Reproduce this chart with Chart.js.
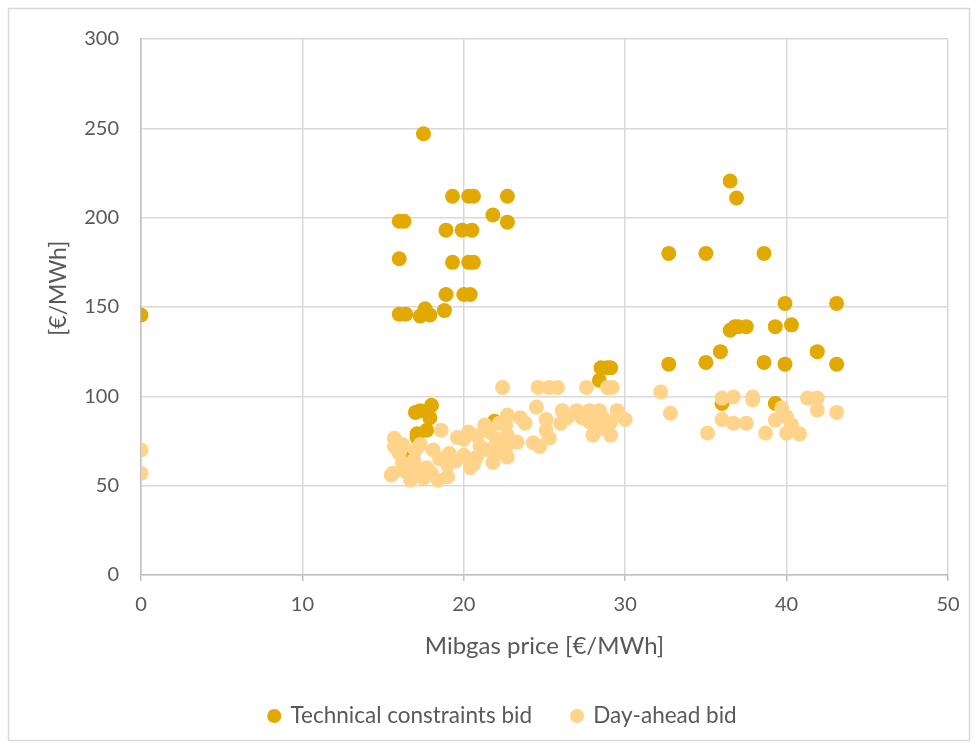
<!DOCTYPE html>
<html>
<head>
<meta charset="utf-8">
<script src="https://cdn.jsdelivr.net/npm/chart.js@4.4.1/dist/chart.umd.min.js"></script>
<style>
  html, body { margin: 0; padding: 0; background: #ffffff; }
  #wrap { width: 978px; height: 749px; position: relative; }
</style>
</head>
<body>
<div id="wrap"><canvas id="c" width="978" height="749"></canvas></div>
<script>
// Mibgas gas price [€/MWh] vs. bid price [€/MWh]
const seriesNames = ['Technical constraints bid', 'Day-ahead bid'];
const xTitle = 'Mibgas price [€/MWh]';
const yTitle = '[€/MWh]';
const xTicks = [0, 10, 20, 30, 40, 50];
const yTicks = [0, 50, 100, 150, 200, 250, 300];

const technicalBid = [
  [0, 145.5], [17.5, 247], [16.0, 198], [16.3, 198], [16.0, 177],
  [16.0, 146], [16.4, 146], [17.3, 145], [17.6, 149], [17.9, 145.5],
  [18.8, 148], [18.9, 157], [20.0, 157], [20.4, 157], [18.9, 193],
  [19.9, 193], [20.5, 193], [19.3, 212], [20.3, 212], [20.6, 212],
  [19.3, 175], [20.3, 175], [20.6, 175], [21.8, 201.5], [22.7, 212],
  [22.7, 197.5], [17.0, 91], [17.3, 92], [18.0, 95], [17.9, 88],
  [17.1, 79], [17.7, 81], [17.1, 77], [16.8, 66], [21.9, 86],
  [28.5, 116], [28.9, 116], [29.1, 116], [28.4, 109], [32.7, 180],
  [32.7, 118], [35.0, 180], [35.0, 119], [35.9, 125], [36.5, 220.5],
  [36.9, 211], [36.5, 137], [36.8, 139], [37.0, 139], [37.5, 139],
  [36.0, 96], [38.6, 180], [38.6, 119], [39.3, 139], [39.9, 152],
  [39.9, 118], [40.3, 140], [41.9, 125], [43.1, 152], [43.1, 118],
  [39.3, 96]
];

const dayAheadBid = [
  [0, 70], [0, 57],
  [15.5, 56], [15.7, 76.6], [15.7, 72], [15.6, 57], [16.2, 62.7], [16.7, 53],
  [17.5, 54], [18.4, 53], [19.0, 55], [18.6, 81], [17.3, 73], [18.1, 70],
  [19.1, 68], [20.0, 67], [20.8, 66], [19.6, 77], [20.8, 78], [21.6, 80],
  [22.2, 85], [21.8, 63], [22.7, 73], [16.2, 73], [16.9, 64], [17.7, 60],
  [19.0, 61.5], [20.4, 60], [16.4, 58], [17.2, 57], [18.0, 57], [16.0, 68],
  [17.0, 70], [18.5, 65], [19.5, 64], [20.0, 76], [20.3, 80], [21.0, 72],
  [21.3, 84], [21.5, 70], [22.0, 76], [20.6, 62], [21.9, 68],
  [22.4, 105], [24.6, 105], [25.3, 105], [25.8, 105], [27.6, 105], [28.9, 105],
  [29.2, 105], [24.5, 94], [26.1, 92], [27.0, 92], [27.8, 92], [28.4, 92],
  [29.5, 92], [30.0, 87], [22.7, 89.5], [23.5, 88], [25.1, 87], [26.4, 88],
  [27.8, 85.6], [29.1, 85.6], [28.0, 78.3], [29.1, 78.3], [22.7, 78], [23.3, 74.4],
  [24.3, 74], [25.3, 76.7], [25.1, 81], [22.7, 66], [22.2, 71], [23.8, 85],
  [24.7, 72], [27.3, 88], [28.6, 88], [26.0, 85], [28.5, 82], [22.6, 84],
  [32.2, 102.4], [32.8, 90.6], [35.1, 79.5], [36.0, 99], [36.7, 99.6], [37.9, 99.6],
  [37.9, 98], [36.0, 87], [36.7, 85], [37.5, 85], [38.7, 79.5], [39.3, 86.7],
  [39.7, 93.5], [40.0, 88.6], [40.3, 84], [40.0, 79.5], [40.8, 79], [41.3, 99],
  [41.9, 99], [41.9, 92.3], [43.1, 91]
];

const toPoints = arr => arr.map(([x, y]) => ({ x, y }));

const TEXT = '#595959';
const GRID = '#d9d9d9';
const AXIS = '#bfbfbf';
const FONT = 'Lato, "Open Sans", sans-serif';

// light frame around the whole chart, plus the vertical axis caption
const framePlugin = {
  id: 'frame',
  beforeDraw(chart) {
    const ctx = chart.ctx;
    ctx.save();
    ctx.fillStyle = '#ffffff';
    ctx.fillRect(0, 0, chart.width, chart.height);
    ctx.strokeStyle = GRID;
    ctx.lineWidth = 1.5;
    ctx.strokeRect(8.5, 8.5, chart.width - 17, chart.height - 17);
    ctx.restore();
  },
  afterDraw(chart) {
    const ctx = chart.ctx;
    const area = chart.chartArea;
    ctx.save();
    ctx.translate(59, area.top + (area.bottom - area.top) * 0.465);
    ctx.rotate(-Math.PI / 2);
    ctx.fillStyle = TEXT;
    ctx.font = '23px ' + FONT;
    ctx.textAlign = 'center';
    ctx.textBaseline = 'middle';
    ctx.fillText(yTitle, 0, 0);
    ctx.restore();
  }
};

new Chart(document.getElementById('c'), {
  type: 'scatter',
  data: {
    datasets: [
      {
        label: seriesNames[0],
        data: toPoints(technicalBid),
        backgroundColor: '#E2AA00',
        borderWidth: 0,
        pointRadius: 7.5,
        pointHoverRadius: 7.5,
        order: 1
      },
      {
        label: seriesNames[1],
        data: toPoints(dayAheadBid),
        backgroundColor: '#FFD38A',
        borderWidth: 0,
        pointRadius: 7.5,
        pointHoverRadius: 7.5,
        order: 0
      }
    ]
  },
  options: {
    responsive: false,
    animation: false,
    layout: { padding: { left: 58, right: 30, top: 39, bottom: 11.75 } },
    scales: {
      x: {
        type: 'linear',
        min: 0, max: 50,
        afterBuildTicks: s => { s.ticks = xTicks.map(v => ({ value: v })); },
        afterFit: s => { s.height = 89.75; },
        grid: { color: GRID, lineWidth: 1.5, drawTicks: true, tickLength: 6, tickColor: AXIS },
        border: { color: AXIS, width: 1.5 },
        ticks: { color: TEXT, font: { family: FONT, size: 20 }, padding: 12, maxRotation: 0 },
        title: {
          display: true, text: xTitle, color: TEXT,
          font: { family: FONT, size: 24 }, padding: { top: 0, bottom: 4.3 }
        }
      },
      y: {
        type: 'linear',
        min: 0, max: 300,
        afterBuildTicks: s => { s.ticks = yTicks.map(v => ({ value: v })); },
        afterFit: s => { s.width = 83; },
        grid: { color: GRID, lineWidth: 1.5, drawTicks: false },
        border: { color: AXIS, width: 1.5 },
        ticks: { color: TEXT, font: { family: FONT, size: 20 }, padding: 22 },
        title: { display: false }
      }
    },
    plugins: {
      legend: {
        position: 'bottom',
        labels: {
          usePointStyle: true,
          pointStyle: 'circle',
          boxWidth: 10,
          boxHeight: 10,
          padding: 40,
          color: TEXT,
          font: { family: FONT, size: 22.5 },
          sort: (a, b) => a.datasetIndex - b.datasetIndex
        }
      },
      tooltip: { enabled: false }
    }
  },
  plugins: [framePlugin]
});
</script>
</body>
</html>
